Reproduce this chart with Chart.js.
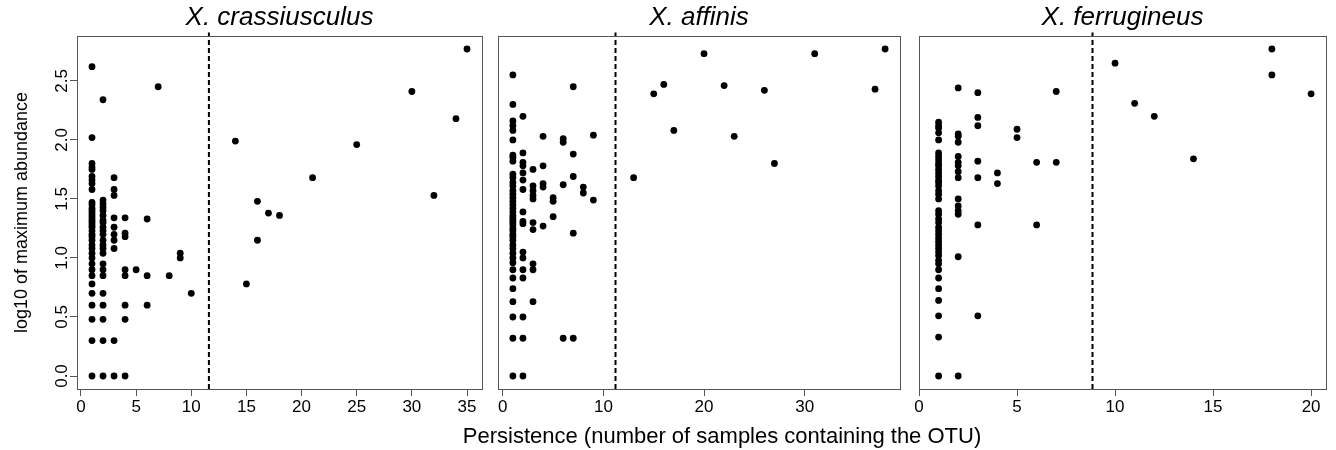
<!DOCTYPE html>
<html>
<head>
<meta charset="utf-8">
<script src="https://cdn.jsdelivr.net/npm/chart.js@4.4.1/dist/chart.umd.min.js"></script>
<style>
  body { margin: 0; background: #fff; width: 1336px; height: 450px; position: relative; overflow: hidden; }
  canvas { position: absolute; top: 0; }
</style>
</head>
<body>
<canvas id="p1" width="490" height="450" style="left:0px"></canvas>
<canvas id="p3" width="426" height="450" style="left:910px"></canvas>
<canvas id="p2" width="604" height="450" style="left:420px"></canvas>
<script>
'use strict';

// shared y axis (log10 of max abundance)
const yTicks = [0, 0.5, 1, 1.5, 2, 2.5];
const yMin = -0.11;
const yMax = 2.88;

// X. crassiusculus : persistence values and the abundances seen at each
const crassPersist = [1, 2, 3, 4, 5, 6, 7, 8, 9, 10, 14, 15, 16, 17, 18, 21, 25, 30, 32, 34, 35];
const crassAbund = [
  [2.62, 2.02, 1.80, 1.77, 1.75, 1.69, 1.66, 1.63, 1.58, 1.47, 1.45, 1.42, 1.40, 1.38, 1.36, 1.34, 1.32, 1.30, 1.28, 1.26, 1.23, 1.20, 1.18, 1.15, 1.11, 1.08, 1.04, 1.00, 0.95, 0.90, 0.85, 0.78, 0.70, 0.60, 0.48, 0.30, 0],
  [2.34, 1.49, 1.46, 1.43, 1.40, 1.36, 1.32, 1.30, 1.26, 1.23, 1.20, 1.15, 1.11, 1.08, 1.04, 0.95, 0.90, 0.85, 0.70, 0.60, 0.48, 0.30, 0],
  [1.68, 1.58, 1.53, 1.34, 1.26, 1.20, 1.15, 1.08, 0.30, 0],
  [1.34, 1.21, 1.18, 0.90, 0.85, 0.60, 0.48, 0],
  [0.90],
  [1.33, 0.85, 0.60],
  [2.45],
  [0.85],
  [1.04, 1.00],
  [0.70],
  [1.99], [0.78], [1.48, 1.15], [1.38], [1.36], [1.68], [1.96], [2.41], [1.53], [2.18], [2.77]
];

// X. affinis
const affinisPersist = [1, 2, 3, 4, 5, 6, 7, 8, 9, 13, 15, 16, 17, 20, 22, 23, 26, 27, 31, 37, 38];
const affinisAbund = [
  [2.55, 2.30, 2.16, 2.12, 2.08, 2.00, 1.87, 1.85, 1.82, 1.71, 1.68, 1.64, 1.61, 1.57, 1.54, 1.51, 1.48, 1.45, 1.42, 1.39, 1.36, 1.34, 1.32, 1.30, 1.28, 1.25, 1.23, 1.20, 1.18, 1.15, 1.11, 1.08, 1.04, 1.00, 0.96, 0.90, 0.83, 0.74, 0.63, 0.50, 0.32, 0],
  [2.20, 1.89, 1.81, 1.78, 1.72, 1.66, 1.58, 1.39, 1.31, 1.29, 1.05, 1.00, 0.90, 0.83, 0.50, 0.32, 0],
  [1.75, 1.61, 1.57, 1.53, 1.50, 1.30, 1.24, 0.95, 0.90, 0.63],
  [2.03, 1.78, 1.63, 1.60, 1.27],
  [1.51, 1.48, 1.35],
  [2.01, 1.98, 1.62, 0.32],
  [2.45, 1.88, 1.69, 1.21, 0.32],
  [1.60, 1.55],
  [2.04, 1.49],
  [1.68], [2.39], [2.47], [2.08], [2.73], [2.46], [2.03], [2.42], [1.80], [2.73], [2.43], [2.77]
];

// X. ferrugineus
const ferruPersist = [1, 2, 3, 4, 5, 6, 7, 10, 11, 12, 14, 18, 20];
const ferruAbund = [
  [2.15, 2.12, 2.10, 2.06, 2.00, 1.89, 1.86, 1.83, 1.80, 1.78, 1.75, 1.72, 1.69, 1.66, 1.64, 1.61, 1.57, 1.54, 1.50, 1.40, 1.37, 1.33, 1.30, 1.26, 1.23, 1.20, 1.17, 1.14, 1.11, 1.08, 1.05, 1.02, 0.98, 0.95, 0.90, 0.83, 0.74, 0.64, 0.51, 0.33, 0],
  [2.44, 2.05, 2.03, 1.98, 1.86, 1.81, 1.78, 1.73, 1.68, 1.50, 1.44, 1.40, 1.37, 1.01, 0],
  [2.40, 2.19, 2.12, 1.82, 1.68, 1.28, 0.51],
  [1.72, 1.63],
  [2.09, 2.02],
  [1.81, 1.28],
  [2.41, 1.81],
  [2.65], [2.31], [2.20], [1.84], [2.77, 2.55], [2.39]
];

const titles = ['X. crassiusculus', 'X. affinis', 'X. ferrugineus'];
const cutoffs = [11.6, 11.2, 8.85];
const xTicks1 = [0, 5, 10, 15, 20, 25, 30, 35];
const xTicks2 = [0, 10, 20, 30];
const xTicks3 = [0, 5, 10, 15, 20];

const family = '"Liberation Sans", Arial, Helvetica, sans-serif';
const axisGrey = '#555';
const xTitleSize = 22;

const boxPlugin = {
  id: 'box',
  afterDraw(chart) {
    const a = chart.chartArea;
    const ctx = chart.ctx;
    ctx.save();
    ctx.strokeStyle = axisGrey;
    ctx.lineWidth = 1;
    ctx.strokeRect(Math.round(a.left) + 0.5, Math.round(a.top) + 0.5,
      Math.round(a.right - a.left), Math.round(a.bottom - a.top));
    ctx.restore();
  }
};

function toPoints(persist, abund) {
  return persist.flatMap((x, i) => abund[i].map(y => ({ x: x, y: y })));
}

// gapL / gapR : space between the canvas edge and the plot box
function drawPanel(id, idx, persist, abund, xMin, xMax, xTicks, gapL, gapR) {
  const first = idx === 0;
  const middle = idx === 1;
  const subH = middle ? xTitleSize * 1.2 + 1 : 0;
  new Chart(document.getElementById(id), {
    type: 'scatter',
    data: {
      datasets: [
        {
          data: toPoints(persist, abund),
          backgroundColor: '#000',
          borderWidth: 0,
          pointRadius: 3.4
        },
        {
          data: [{ x: cutoffs[idx], y: yMin }, { x: cutoffs[idx], y: 2.91 }],
          showLine: true,
          borderColor: '#000',
          borderWidth: 2,
          borderDash: [5, 3],
          pointRadius: 0,
          clip: false
        }
      ]
    },
    options: {
      responsive: false,
      animation: false,
      layout: { padding: 0 },
      plugins: {
        legend: { display: false },
        tooltip: { enabled: false },
        title: {
          display: true,
          text: titles[idx],
          fullSize: false,
          color: '#000',
          font: { family: family, size: 26, style: 'italic', weight: 'normal' },
          padding: { top: 2, bottom: 2.8 }
        },
        subtitle: {
          display: middle,
          position: 'bottom',
          fullSize: true,
          text: 'Persistence (number of samples containing the OTU)',
          color: '#000',
          font: { family: family, size: xTitleSize, weight: 'normal' },
          padding: { top: 1, bottom: 0 }
        }
      },
      scales: {
        x: {
          type: 'linear',
          min: xMin,
          max: xMax,
          afterBuildTicks: s => { s.ticks = xTicks.map(v => ({ value: v })); },
          afterFit: s => { s.height = 61 - subH; },
          grid: { drawOnChartArea: false, drawTicks: true, tickLength: 7, color: axisGrey },
          border: { display: false },
          ticks: { color: '#000', font: { family: family, size: 17 }, padding: 1, maxRotation: 0, autoSkip: false }
        },
        y: {
          type: 'linear',
          display: first,
          min: yMin,
          max: yMax,
          afterBuildTicks: s => { s.ticks = yTicks.map(v => ({ value: v })); },
          afterFit: s => { s.width = gapL; },
          grid: { drawOnChartArea: false, drawTicks: true, tickLength: 7, color: axisGrey },
          border: { display: false },
          ticks: {
            color: '#000',
            font: { family: family, size: 17 },
            minRotation: 90,
            maxRotation: 90,
            crossAlign: 'center',
            padding: -4,
            callback: v => v.toFixed(1)
          },
          title: {
            display: true,
            text: 'log10 of maximum abundance',
            color: '#000',
            font: { family: family, size: 18 },
            padding: { top: 11, bottom: 0 }
          }
        },
        // hidden axis, only keeps the gap on the right of the box
        yRight: {
          type: 'linear',
          position: 'right',
          display: false,
          afterFit: s => { s.width = gapR; }
        }
      }
    },
    plugins: [boxPlugin]
  });
}

drawPanel('p1', 0, crassPersist, crassAbund, -0.36, 36.36, xTicks1, 77, 8);
drawPanel('p2', 1, affinisPersist, affinisAbund, -0.48, 39.48, xTicks2, 78, 124);
drawPanel('p3', 2, ferruPersist, ferruAbund, 0, 20.76, xTicks3, 9, 10);
</script>
</body>
</html>
